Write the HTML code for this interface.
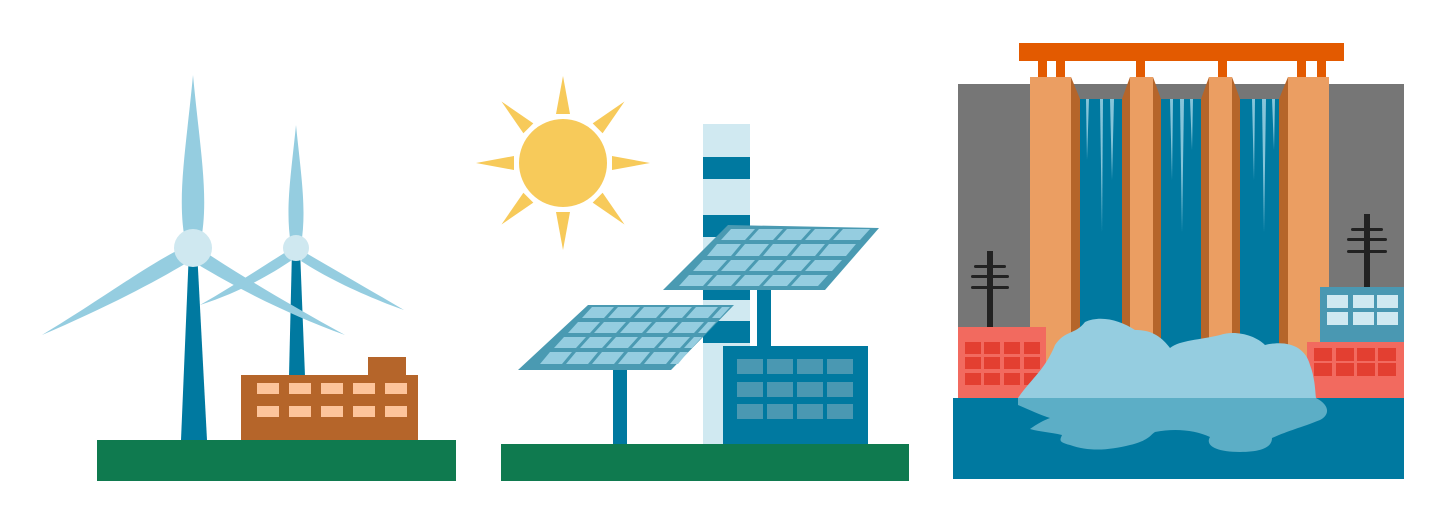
<!DOCTYPE html><html><head><style>body{margin:0;background:#fff}svg{display:block}</style></head><body>
<svg width="1440" height="516" viewBox="0 0 1440 516" xmlns="http://www.w3.org/2000/svg">
<!-- WIND -->
<rect x="97" y="440" width="359" height="41" fill="#0f7a4f"/>
<polygon points="189,250 197,250 207,440 181,440" fill="#0079a0"/>
<polygon points="292,250 300,250 305,376 289,376" fill="#0079a0"/>
<rect x="289" y="376" width="16" height="64" fill="#0079a0"/>
<g fill="#95cde0">
<path d="M193,75 C200,150 210,200 200,245 L186,245 C176,200 186,150 193,75Z"/>
<path d="M42,335 C100,300 140,270 178,250 L188,262 C150,285 100,310 42,335Z"/>
<path d="M345,335 C290,305 240,275 205,252 L197,264 C240,290 290,315 345,335Z"/>
<path d="M296,125 C301,175 307,210 301,245 L291,245 C285,210 291,175 296,125Z"/>
<path d="M200,305 C235,285 265,265 286,252 L292,260 C270,275 240,292 200,305Z"/>
<path d="M404,310 C370,290 335,270 306,253 L301,261 C330,280 370,298 404,310Z"/>
</g>
<circle cx="193" cy="248" r="19" fill="#cfe8f0"/>
<circle cx="296" cy="248" r="13" fill="#cfe8f0"/>
<rect x="241" y="375" width="177" height="65" fill="#b5652a"/>
<rect x="368" y="357" width="38" height="18" fill="#b5652a"/>
<g fill="#fdc49b">
<rect x="257" y="383" width="22" height="11"/><rect x="289" y="383" width="22" height="11"/><rect x="321" y="383" width="22" height="11"/><rect x="353" y="383" width="22" height="11"/><rect x="385" y="383" width="22" height="11"/>
<rect x="257" y="406" width="22" height="11"/><rect x="289" y="406" width="22" height="11"/><rect x="321" y="406" width="22" height="11"/><rect x="353" y="406" width="22" height="11"/><rect x="385" y="406" width="22" height="11"/>
</g>
<!-- SOLAR -->
<rect x="501" y="444" width="408" height="37" fill="#0f7a4f"/>
<g fill="#f7ca5a">
<circle cx="563" cy="163" r="44"/>
<g id="ray"><polygon points="556,114 570,114 563,76"/></g>
<use href="#ray" transform="rotate(45 563 163)"/><use href="#ray" transform="rotate(90 563 163)"/><use href="#ray" transform="rotate(135 563 163)"/><use href="#ray" transform="rotate(180 563 163)"/><use href="#ray" transform="rotate(225 563 163)"/><use href="#ray" transform="rotate(270 563 163)"/><use href="#ray" transform="rotate(315 563 163)"/>
</g>
<circle cx="563" cy="163" r="46" fill="none" stroke="#fff" stroke-width="3"/>
<rect x="703" y="124" width="47" height="320" fill="#d0e9f1"/>
<g fill="#0079a0"><rect x="703" y="157" width="47" height="22"/><rect x="703" y="215" width="47" height="22"/><rect x="703" y="290" width="47" height="10"/><rect x="703" y="321" width="47" height="22"/></g>
<rect x="723" y="346" width="145" height="98" fill="#0079a0"/>
<g fill="#4a98b2">
<rect x="737" y="359" width="26" height="15"/><rect x="767" y="359" width="26" height="15"/><rect x="797" y="359" width="26" height="15"/><rect x="827" y="359" width="26" height="15"/>
<rect x="737" y="382" width="26" height="15"/><rect x="767" y="382" width="26" height="15"/><rect x="797" y="382" width="26" height="15"/><rect x="827" y="382" width="26" height="15"/>
<rect x="737" y="404" width="26" height="15"/><rect x="767" y="404" width="26" height="15"/><rect x="797" y="404" width="26" height="15"/><rect x="827" y="404" width="26" height="15"/>
</g>
<rect x="613" y="370" width="14" height="74" fill="#0079a0"/>
<rect x="757" y="288" width="14" height="58" fill="#0079a0"/>
<polygon points="518,370 671,370 734,305 588,305" fill="#4a9ab2"/>
<g stroke="#95cde0" stroke-width="0" fill="none"></g>
<g fill="#95cde0">
<path d="M530,366 L665,366 L725,309 L592,309Z" fill="none"/>
</g>
<g fill="#95cde0" transform="matrix(1,0,-1.077,1,0,0)">
<!-- skew so parallelogram becomes rect: x' = x + 1.077*(y-?) -->
</g>
<polygon points="663,290 825,290 879,228 728,225" fill="#4a9ab2"/>
<g id="cells"></g>
<script></script>
<!-- cells via explicit polygons -->
<g fill="#95cde0">
<g id="lp"></g>
</g>
<!-- lower panel grid -->
<g fill="#95cde0">
<polygon points="592,307 614,307 604,318 582,318"/><polygon points="618,307 640,307 630,318 608,318"/><polygon points="644,307 666,307 656,318 634,318"/><polygon points="670,307 692,307 682,318 660,318"/><polygon points="696,307 718,307 708,318 686,318"/><polygon points="722,307 730,307 720,318 712,318"/>
<polygon points="578,322 600,322 590,333 568,333"/><polygon points="604,322 626,322 616,333 594,333"/><polygon points="630,322 652,322 642,333 620,333"/><polygon points="656,322 678,322 668,333 646,333"/><polygon points="682,322 704,322 694,333 672,333"/><polygon points="708,322 716,322 706,333 698,333"/>
<polygon points="564,337 586,337 576,348 554,348"/><polygon points="590,337 612,337 602,348 580,348"/><polygon points="616,337 638,337 628,348 606,348"/><polygon points="642,337 664,337 654,348 632,348"/><polygon points="668,337 690,337 680,348 658,348"/><polygon points="694,337 702,337 692,348 684,348"/>
<polygon points="550,352 572,352 562,364 540,364"/><polygon points="576,352 598,352 588,364 566,364"/><polygon points="602,352 624,352 614,364 592,364"/><polygon points="628,352 650,352 640,364 618,364"/><polygon points="654,352 676,352 666,364 644,364"/><polygon points="680,352 688,352 678,364 670,364"/>
</g>
<g fill="#95cde0">
<polygon points="731,229 755,229 745,240 721,240"/><polygon points="759,229 783,229 773,240 749,240"/><polygon points="787,229 811,229 801,240 777,240"/><polygon points="815,229 839,229 829,240 805,240"/><polygon points="843,229 870,229 860,240 833,240"/>
<polygon points="717,244 741,244 731,256 707,256"/><polygon points="745,244 769,244 759,256 735,256"/><polygon points="773,244 797,244 787,256 763,256"/><polygon points="801,244 825,244 815,256 791,256"/><polygon points="829,244 856,244 846,256 819,256"/>
<polygon points="703,260 727,260 717,271 693,271"/><polygon points="731,260 755,260 745,271 721,271"/><polygon points="759,260 783,260 773,271 749,271"/><polygon points="787,260 811,260 801,271 777,271"/><polygon points="815,260 842,260 832,271 805,271"/>
<polygon points="689,275 713,275 703,286 679,286"/><polygon points="717,275 741,275 731,286 707,286"/><polygon points="745,275 769,275 759,286 735,286"/><polygon points="773,275 797,275 787,286 763,286"/><polygon points="801,275 828,275 818,286 791,286"/>
</g>
<!-- HYDRO -->
<rect x="958" y="84" width="446" height="314" fill="#767676"/>
<rect x="1072" y="99" width="236" height="299" fill="#0079a0"/>
<g fill="#95cde0" opacity="0.9">
<polygon points="1086,99 1089,99 1087,160"/><polygon points="1100,99 1103,99 1102,232"/><polygon points="1110,99 1114,99 1112,180"/>
<polygon points="1170,99 1173,99 1172,180"/><polygon points="1180,99 1184,99 1182,232"/><polygon points="1190,99 1193,99 1192,150"/>
<polygon points="1252,99 1255,99 1254,180"/><polygon points="1262,99 1266,99 1264,232"/><polygon points="1272,99 1275,99 1274,150"/>
</g>
<rect x="1019" y="43" width="325" height="18" fill="#e35a00"/>
<g fill="#e35a00"><rect x="1038" y="61" width="9" height="17"/><rect x="1056" y="61" width="9" height="17"/><rect x="1136" y="61" width="9" height="17"/><rect x="1218" y="61" width="9" height="17"/><rect x="1297" y="61" width="9" height="17"/><rect x="1317" y="61" width="9" height="17"/></g>
<g fill="#b5652a">
<polygon points="1071,77 1080,99 1080,398 1071,398"/>
<polygon points="1130,77 1122,99 1122,398 1130,398"/><polygon points="1153,77 1161,99 1161,398 1153,398"/>
<polygon points="1209,77 1201,99 1201,398 1209,398"/><polygon points="1232,77 1240,99 1240,398 1232,398"/>
<polygon points="1288,77 1279,99 1279,398 1288,398"/>
</g>
<g fill="#eb9e62"><rect x="1030" y="77" width="41" height="321"/><rect x="1130" y="77" width="23" height="321"/><rect x="1209" y="77" width="23" height="321"/><rect x="1288" y="77" width="41" height="321"/></g>
<g fill="#222"><rect x="987" y="251" width="6" height="77"/><rect x="974" y="265" width="32" height="3" rx="1.5"/><rect x="971" y="275" width="38" height="3" rx="1.5"/><rect x="971" y="286" width="38" height="3" rx="1.5"/>
<rect x="1364" y="214" width="6" height="73"/><rect x="1351" y="228" width="32" height="3" rx="1.5"/><rect x="1347" y="238" width="40" height="3" rx="1.5"/><rect x="1347" y="250" width="40" height="3" rx="1.5"/></g>
<rect x="958" y="327" width="88" height="71" fill="#f26a5f"/>
<g fill="#e33f31"><rect x="965" y="342" width="16" height="12"/><rect x="984" y="342" width="16" height="12"/><rect x="1004" y="342" width="16" height="12"/><rect x="1024" y="342" width="16" height="12"/><rect x="965" y="357" width="16" height="12"/><rect x="984" y="357" width="16" height="12"/><rect x="1004" y="357" width="16" height="12"/><rect x="1024" y="357" width="16" height="12"/><rect x="965" y="373" width="16" height="12"/><rect x="984" y="373" width="16" height="12"/><rect x="1004" y="373" width="16" height="12"/><rect x="1024" y="373" width="16" height="12"/></g>
<rect x="1320" y="287" width="84" height="56" fill="#4a98b2"/>
<g fill="#d0e9f1"><rect x="1327" y="295" width="21" height="13"/><rect x="1353" y="295" width="21" height="13"/><rect x="1377" y="295" width="21" height="13"/><rect x="1327" y="312" width="21" height="13"/><rect x="1353" y="312" width="21" height="13"/><rect x="1377" y="312" width="21" height="13"/></g>
<rect x="1307" y="342" width="97" height="56" fill="#f26a5f"/>
<g fill="#e33f31"><rect x="1314" y="348" width="18" height="13"/><rect x="1336" y="348" width="18" height="13"/><rect x="1357" y="348" width="18" height="13"/><rect x="1378" y="348" width="18" height="13"/><rect x="1314" y="363" width="18" height="13"/><rect x="1336" y="363" width="18" height="13"/><rect x="1357" y="363" width="18" height="13"/><rect x="1378" y="363" width="18" height="13"/></g>
<rect x="953" y="398" width="451" height="81" fill="#0079a0"/>
<path d="M1018,398 C1030,380 1045,370 1055,345 C1065,330 1075,335 1085,322 C1100,315 1120,320 1135,330 C1150,330 1160,335 1170,348 C1180,340 1200,340 1220,335 C1235,330 1255,335 1265,345 C1285,340 1305,345 1310,365 C1315,378 1315,390 1316,398Z" fill="#95cde0"/>
<path d="M1018,398 L1316,398 C1330,405 1330,415 1320,420 C1300,428 1290,430 1272,438 C1272,448 1260,452 1240,452 C1215,452 1205,445 1210,437 C1195,430 1175,428 1155,432 C1150,435 1150,440 1130,445 C1110,450 1090,452 1070,445 C1058,442 1060,440 1062,435 C1050,432 1040,432 1030,429 C1040,422 1045,420 1050,418 C1040,415 1030,410 1018,405Z" fill="#5caec6"/>
</svg>
</body></html>
